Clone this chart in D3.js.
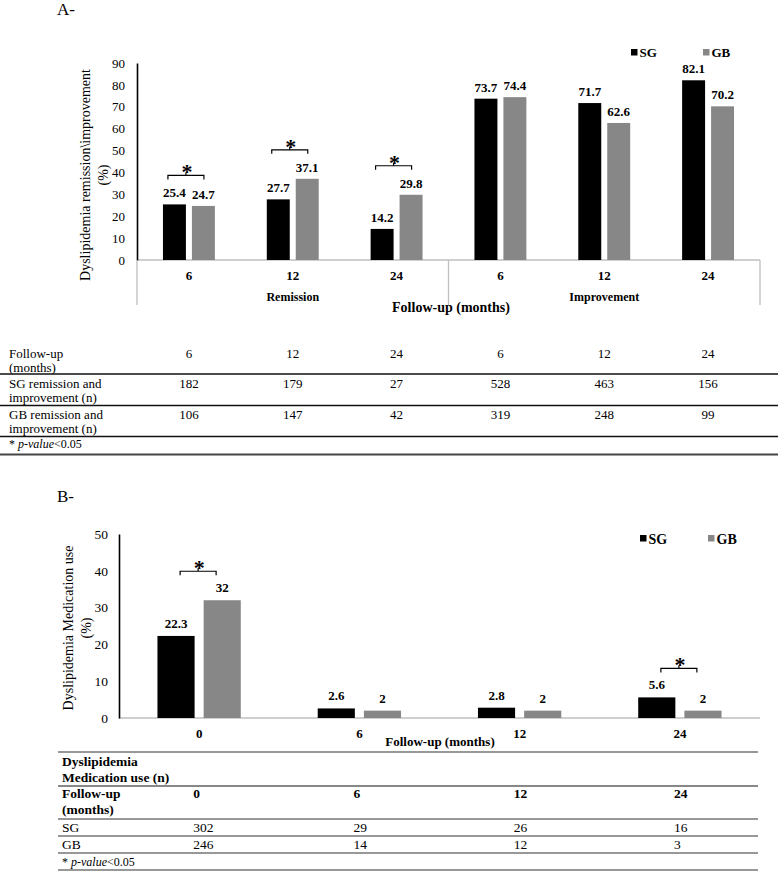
<!DOCTYPE html>
<html>
<head>
<meta charset="utf-8">
<script src="https://cdn.jsdelivr.net/npm/d3@7"></script>
<style>
  html, body { margin: 0; padding: 0; background: #fff; }
</style>
</head>
<body>
<div id="chart"></div>
<script>
// ---------- DATA ----------
const seriesNames = ["SG", "GB"];
const seriesColors = ["#000000", "#878787"];

// Panel A
const categoriesA = ["6", "12", "24", "6", "12", "24"];
const sectionsA = ["Remission", "Improvement"];
const sectionSizeA = 3;
const sgA = [25.4, 27.7, 14.2, 73.7, 71.7, 82.1];
const gbA = [24.7, 37.1, 29.8, 74.4, 62.6, 70.2];
const sigA = [true, true, true, false, false, false];
const yTicksA = [0, 10, 20, 30, 40, 50, 60, 70, 80, 90];
const tableA_followup = ["6", "12", "24", "6", "12", "24"];
const tableA_sgN = [182, 179, 27, 528, 463, 156];
const tableA_gbN = [106, 147, 42, 319, 248, 99];

// Panel B
const categoriesB = ["0", "6", "12", "24"];
const sgB = [22.3, 2.6, 2.8, 5.6];
const gbB = [32, 2, 2, 2];
const sigB = [true, false, false, true];
const yTicksB = [0, 10, 20, 30, 40, 50];
const tableB_followup = ["0", "6", "12", "24"];
const tableB_sgN = [302, 29, 26, 16];
const tableB_gbN = [246, 14, 12, 3];

// ---------- SETUP ----------
const W = 778, H = 871;
const FONT = "'Liberation Serif', 'Times New Roman', Times, serif";
const svg = d3.select("#chart").append("svg")
  .attr("width", W).attr("height", H)
  .style("font-family", FONT);
svg.append("rect").attr("width", W).attr("height", H).attr("fill", "#fff");

function drawPanel(opt) {
  const g = svg.append("g");
  const n = opt.cats.length;
  const x = d3.scaleBand().domain(d3.range(n)).range([opt.x0, opt.x1]);
  const bw = x.bandwidth();
  const inner = d3.scaleBand().domain(seriesNames)
    .range([bw * opt.innerFrom, bw * opt.innerTo]).paddingInner(opt.innerPad);
  const y = d3.scaleLinear().domain(opt.yDomain).range([opt.y0, opt.y1]);

  // x baseline (gray)
  g.append("line").attr("x1", opt.x0).attr("x2", opt.x1)
    .attr("y1", opt.y0).attr("y2", opt.y0)
    .attr("stroke", "#bfbfbf").attr("stroke-width", 1.5);

  // y axis
  const yAxis = d3.axisLeft(y).tickValues(opt.yTicks).tickSize(0).tickSizeOuter(0)
    .tickPadding(opt.yTickPad);
  const ya = g.append("g").attr("transform", `translate(${opt.x0},0)`).call(yAxis);
  ya.attr("font-family", null);
  ya.select(".domain").attr("stroke", "#000").attr("stroke-width", 1.6);
  ya.selectAll("text").style("font-family", FONT).style("font-size", opt.yTickSize + "px").attr("fill", "#000");

  // x axis labels
  const xAxis = d3.axisBottom(x).tickSize(0).tickPadding(opt.xTickPad)
    .tickFormat(i => opt.cats[i]);
  const xa = g.append("g").attr("transform", `translate(0,${opt.y0})`).call(xAxis);
  xa.attr("font-family", null);
  xa.select(".domain").remove();
  xa.selectAll("text").style("font-family", FONT).style("font-size", "13px")
    .style("font-weight", "bold").attr("fill", "#000");

  // bars
  const data = [];
  opt.cats.forEach((c, i) => {
    data.push({ i, s: "SG", v: opt.sg[i], c: seriesColors[0] });
    data.push({ i, s: "GB", v: opt.gb[i], c: seriesColors[1] });
  });
  g.selectAll("rect.bar").data(data).join("rect").attr("class", "bar")
    .attr("x", d => x(d.i) + inner(d.s))
    .attr("width", inner.bandwidth())
    .attr("y", d => y(d.v))
    .attr("height", d => y(0) - y(d.v))
    .attr("fill", d => d.c);

  g.selectAll("text.val").data(data).join("text").attr("class", "val")
    .attr("x", d => x(d.i) + inner(d.s) + inner.bandwidth() / 2)
    .attr("y", d => y(d.v) - opt.valGap)
    .attr("text-anchor", "middle")
    .style("font-size", "13px").style("font-weight", "bold")
    .text(d => String(d.v));

  // significance brackets
  opt.sig.forEach((s, i) => {
    if (!s) return;
    const yb = y(Math.max(opt.sg[i], opt.gb[i])) - 29;
    const cx = x(i) + bw / 2 + opt.brOff;
    const hw = 18;
    g.append("path")
      .attr("d", `M${cx - hw},${yb + 4}V${yb}H${cx + hw}V${yb + 4}M${cx},${yb}V${yb - 3}`)
      .attr("fill", "none").attr("stroke", "#000").attr("stroke-width", 1.2);
    g.append("text").attr("x", cx + 1).attr("y", yb + 4)
      .attr("text-anchor", "middle").style("font-size", "22px").style("font-weight", "bold")
      .text("*");
  });

  return { g, x, y, bw };
}

// ---------- PANEL A ----------
svg.append("text").attr("x", 57).attr("y", 15).style("font-size", "17px").text("A-");

const A = drawPanel({
  cats: categoriesA, sg: sgA, gb: gbA, sig: sigA,
  x0: 137, x1: 760, y0: 260, y1: 63, yDomain: [0, 90], yTicks: yTicksA,
  innerFrom: 0.25, innerTo: 0.75, innerPad: 0.207,
  yTickPad: 12, yTickSize: 13, xTickPad: 11, valGap: 7, brOff: -3
});

// section separators and labels
for (let k = 0; k <= sectionsA.length; k++) {
  const xi = k * sectionSizeA;
  const xx = xi < categoriesA.length ? A.x(xi) : A.x(categoriesA.length - 1) + A.bw;
  A.g.append("line").attr("x1", xx).attr("x2", xx).attr("y1", 260).attr("y2", 305)
    .attr("stroke", "#bfbfbf").attr("stroke-width", 1.3);
}
sectionsA.forEach((name, k) => {
  const mid = k * sectionSizeA + Math.floor(sectionSizeA / 2);
  A.g.append("text").attr("x", A.x(mid) + A.bw / 2).attr("y", 301)
    .attr("text-anchor", "middle").style("font-size", "12px").style("font-weight", "bold")
    .text(name);
});
A.g.append("text").attr("x", 451).attr("y", 312).attr("text-anchor", "middle")
  .style("font-size", "14px").style("font-weight", "bold").text("Follow-up (months)");

// y title A
A.g.append("text").attr("transform", "translate(90,175) rotate(-90)").attr("text-anchor", "middle")
  .style("font-size", "14px").text("Dyslipidemia remission\\improvement");
A.g.append("text").attr("transform", "translate(108,175) rotate(-90)").attr("text-anchor", "middle")
  .style("font-size", "14px").text("(%)");

// legend
function legend(x0, yTop, size, fs, baseline, gap) {
  seriesNames.forEach((s, k) => {
    const xx = x0 + k * gap;
    svg.append("rect").attr("x", xx).attr("y", yTop).attr("width", size).attr("height", size)
      .attr("fill", seriesColors[k]);
    svg.append("text").attr("x", xx + size + 2).attr("y", baseline)
      .style("font-size", fs + "px").style("font-weight", "bold").text(s);
  });
}
legend(631, 49, 6.5, 13, 56.5, 72);

// table A
const tA = svg.append("g").style("font-size", "13px");
const colA = i => A.x(i) + A.bw / 2;
function multiline(g, x, y, lines, lh, anchor) {
  const t = g.append("text").attr("x", x).attr("y", y).attr("text-anchor", anchor || "start");
  lines.forEach((l, k) => t.append("tspan").attr("x", x).attr("y", y + k * lh).text(l));
  return t;
}
multiline(tA, 9, 357.5, ["Follow-up", "(months)"], 14);
tableA_followup.forEach((v, i) => tA.append("text").attr("x", colA(i)).attr("y", 358).attr("text-anchor", "middle").text(v));
multiline(tA, 9, 388, ["SG remission and", "improvement (n)"], 14);
tableA_sgN.forEach((v, i) => tA.append("text").attr("x", colA(i)).attr("y", 388).attr("text-anchor", "middle").text(v));
multiline(tA, 9, 419, ["GB remission and", "improvement (n)"], 14);
tableA_gbN.forEach((v, i) => tA.append("text").attr("x", colA(i)).attr("y", 419).attr("text-anchor", "middle").text(v));
const fnA = tA.append("text").attr("x", 9).attr("y", 448).style("font-size", "12px");
fnA.append("tspan").text("* ");
fnA.append("tspan").style("font-style", "italic").text("p-value");
fnA.append("tspan").text("<0.05");
[[374, 1.4, "#111"], [405.5, 1.4, "#111"], [436.5, 1.4, "#111"], [454.5, 2, "#444"]].forEach(([yy, w, c]) => {
  tA.append("line").attr("x1", 0).attr("x2", 778).attr("y1", yy).attr("y2", yy)
    .attr("stroke", c).attr("stroke-width", w);
});

// ---------- PANEL B ----------
svg.append("text").attr("x", 57).attr("y", 501.5).style("font-size", "17px").text("B-");

const B = drawPanel({
  cats: categoriesB, sg: sgB, gb: gbB, sig: sigB,
  x0: 119, x1: 760, y0: 718, y1: 534, yDomain: [0, 50], yTicks: yTicksB,
  innerFrom: 0.24, innerTo: 0.76, innerPad: 0.196,
  yTickPad: 11, yTickSize: 13.5, xTickPad: 10.5, valGap: 8, brOff: -1
});
B.g.append("text").attr("x", 440).attr("y", 746).attr("text-anchor", "middle")
  .style("font-size", "13px").style("font-weight", "bold").text("Follow-up (months)");
B.g.append("text").attr("transform", "translate(73,628) rotate(-90)").attr("text-anchor", "middle")
  .style("font-size", "14px").text("Dyslipidemia Medication use");
B.g.append("text").attr("transform", "translate(91,628) rotate(-90)").attr("text-anchor", "middle")
  .style("font-size", "14px").text("(%)");
legend(640, 535, 6.5, 14, 543.5, 68);

// table B
const tB = svg.append("g").style("font-size", "13.5px");
const colB = i => B.x(i) + B.bw / 2 - 6;
multiline(tB, 62, 766, ["Dyslipidemia", "Medication use (n)"], 16).style("font-weight", "bold");
multiline(tB, 62, 798, ["Follow-up", "(months)"], 16).style("font-weight", "bold");
tableB_followup.forEach((v, i) => tB.append("text").attr("x", colB(i)).attr("y", 798).style("font-weight", "bold").text(v));
tB.append("text").attr("x", 62).attr("y", 832).text("SG");
tableB_sgN.forEach((v, i) => tB.append("text").attr("x", colB(i)).attr("y", 832).text(v));
tB.append("text").attr("x", 62).attr("y", 849).text("GB");
tableB_gbN.forEach((v, i) => tB.append("text").attr("x", colB(i)).attr("y", 849).text(v));
const fnB = tB.append("text").attr("x", 62).attr("y", 866).style("font-size", "12px");
fnB.append("tspan").text("* ");
fnB.append("tspan").style("font-style", "italic").text("p-value");
fnB.append("tspan").text("<0.05");
[[752, 1.2, "#333"], [786, 2.2, "#888"], [819, 1.2, "#333"], [836, 1.2, "#333"], [853, 1.2, "#333"], [870, 1.2, "#333"]].forEach(([yy, w, c]) => {
  tB.append("line").attr("x1", 58).attr("x2", 758).attr("y1", yy).attr("y2", yy)
    .attr("stroke", c).attr("stroke-width", w);
});
</script>
</body>
</html>
